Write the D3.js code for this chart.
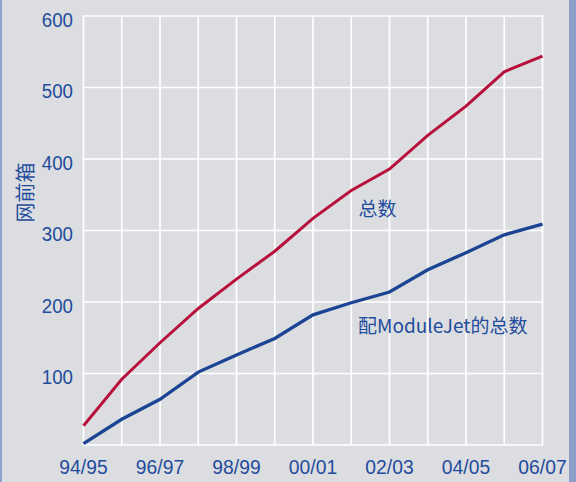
<!DOCTYPE html>
<html>
<head>
<meta charset="utf-8">
<script src="https://cdn.jsdelivr.net/npm/d3@7/dist/d3.min.js"></script>
<style>
  html, body { margin: 0; padding: 0; background: #dcdde0; }
  svg { display: block; }
</style>
</head>
<body>
<script>
// Seasons along the x axis and the two running totals
const seasons = ["94/95","95/96","96/97","97/98","98/99","99/00","00/01","01/02","02/03","03/04","04/05","05/06","06/07"];
const totalAll = [27, 92, 143, 191, 232, 271, 317, 356, 386, 433, 474, 522, 544];
const totalModuleJet = [2, 36, 64, 102, 126, 149, 182, 199, 214, 245, 269, 294, 309];
const yTicks = [0, 100, 200, 300, 400, 500, 600];
const yLabels = ["", "100", "200", "300", "400", "500", "600"];
const xLabelSeasons = ["94/95","96/97","98/99","00/01","02/03","04/05","06/07"];
const yTitle = "网前箱";
const labelAll = "总数";
const labelModuleJet = "配ModuleJet的总数";

const W = 576, H = 482;
const textBlue = "#1f4c9c";
const latinFont = "'Liberation Sans', Arial, sans-serif";
const cjkFont = "'Noto Sans CJK SC', 'Noto Sans', sans-serif";

const svg = d3.select("body").append("svg").attr("width", W).attr("height", H);

svg.append("rect").attr("width", W).attr("height", H).attr("fill", "#dcdde0");
// side stripes
svg.append("rect").attr("x", 0).attr("y", 0).attr("width", 2).attr("height", H).attr("fill", "#8fa2cc");
svg.append("rect").attr("x", 569).attr("y", 0).attr("width", 7).attr("height", H).attr("fill", "#8a9ec8");

const x = d3.scalePoint().domain(seasons).range([83.5, 542.5]);
const y = d3.scaleLinear().domain([0, 600]).range([445, 16]);

// grid
const grid = svg.append("g");
grid.selectAll("line.v").data(seasons).join("line")
  .attr("x1", d => x(d)).attr("x2", d => x(d))
  .attr("y1", y(0)).attr("y2", y(600))
  .attr("stroke", "#ffffff").attr("stroke-width", 1.7);
grid.selectAll("line.h").data(yTicks).join("line")
  .attr("x1", x(seasons[0]) - 0.85).attr("x2", x(seasons[seasons.length - 1]) + 0.85)
  .attr("y1", d => y(d)).attr("y2", d => y(d))
  .attr("stroke", "#ffffff").attr("stroke-width", 1.7);

// y tick labels
svg.append("g").selectAll("text").data(yTicks).join("text")
  .attr("transform", d => `translate(73,${y(d) + 10.5}) scale(0.89,1)`)
  .attr("text-anchor", "end")
  .attr("font-family", latinFont).attr("font-size", 21)
  .attr("fill", textBlue)
  .text((d, i) => yLabels[i]);

// x tick labels
svg.append("g").selectAll("text").data(xLabelSeasons).join("text")
  .attr("transform", d => `translate(${x(d)},474) scale(0.92,1)`)
  .attr("text-anchor", "middle")
  .attr("font-family", latinFont).attr("font-size", 21)
  .attr("fill", textBlue)
  .text(d => d);

// y axis title
svg.append("text")
  .attr("transform", "translate(33,192.5) rotate(-90)")
  .attr("text-anchor", "middle")
  .attr("font-family", cjkFont).attr("font-size", 20)
  .attr("fill", textBlue)
  .text(yTitle);

const line = d3.line().x((d, i) => x(seasons[i])).y(d => y(d));

svg.append("path").datum(totalAll)
  .attr("d", line).attr("fill", "none")
  .attr("stroke", "#b8103d").attr("stroke-width", 3)
  .attr("stroke-linejoin", "miter");

svg.append("path").datum(totalModuleJet)
  .attr("d", line).attr("fill", "none")
  .attr("stroke", "#1b4494").attr("stroke-width", 3.3)
  .attr("stroke-linejoin", "miter");

// series labels
svg.append("text").attr("x", 358.5).attr("y", 216)
  .attr("font-family", cjkFont).attr("font-size", 19)
  .attr("fill", textBlue).text(labelAll);

svg.append("text").attr("x", 358).attr("y", 333)
  .attr("font-family", cjkFont).attr("font-size", 19)
  .attr("fill", textBlue).text(labelModuleJet);
</script>
</body>
</html>
